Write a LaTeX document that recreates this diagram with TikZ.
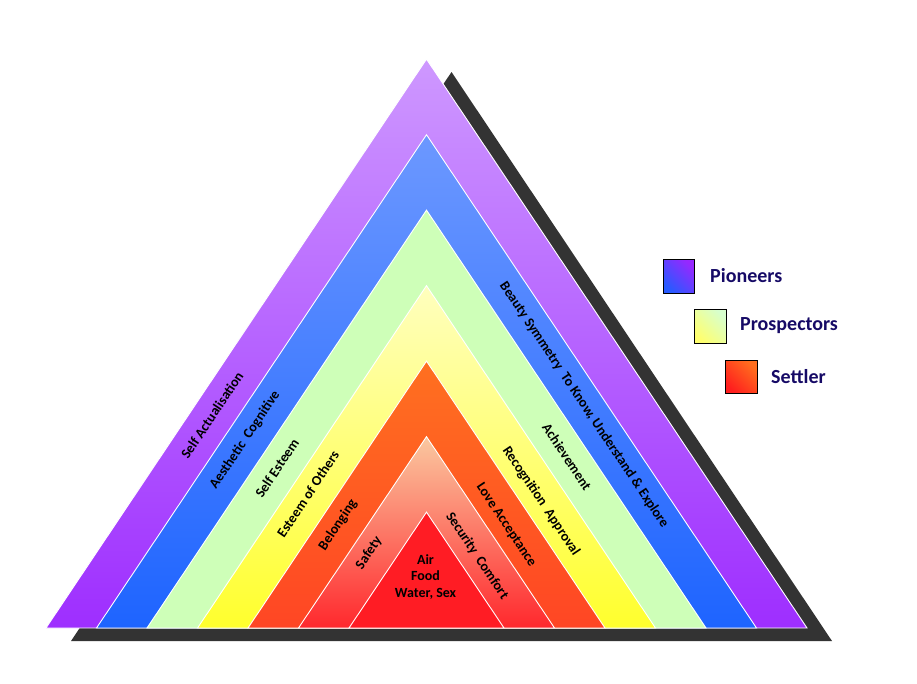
\documentclass[tikz,border=0pt]{standalone}
\usepackage{fontspec}
\setmainfont{Carlito}
\begin{document}
\begin{tikzpicture}[x=1pt,y=-1pt,
  layer/.style={draw=white,line width=0.9pt},
  lab/.style={font=\bfseries\fontsize{14}{16}\selectfont,text=black,inner sep=0pt},
  lbox/.style={draw=black,line width=0.7pt},
  ltext/.style={font=\bfseries\fontsize{20}{23}\selectfont,text=navy,anchor=west,inner sep=0pt}]
\definecolor{navy}{RGB}{22,10,102}
\definecolor{shadowc}{RGB}{51,51,51}
\useasboundingbox (0,0) rectangle (917,683);
% shadow
\fill[shadowc] (71,641) -- (451.5,72) -- (832,641) -- cycle;
% layers
\shade[layer,top color={rgb,255:red,206;green,152;blue,255},bottom color={rgb,255:red,158;green,46;blue,255}]
  (46,628) -- (426.5,59.1) -- (807,628) -- cycle;
\shade[layer,top color={rgb,255:red,108;green,152;blue,255},bottom color={rgb,255:red,30;green,100;blue,255}]
  (96.5,628) -- (426.5,134.7) -- (756.5,628) -- cycle;
\fill[layer,fill={rgb,255:red,206;green,255;blue,184}]
  (147,628) -- (426.5,210.1) -- (706,628) -- cycle;
\shade[layer,top color={rgb,255:red,255;green,255;blue,190},bottom color={rgb,255:red,255;green,255;blue,45}]
  (197.5,628) -- (426.5,285.6) -- (655.5,628) -- cycle;
\shade[layer,top color={rgb,255:red,255;green,112;blue,32},bottom color={rgb,255:red,255;green,70;blue,36}]
  (248,628) -- (426.5,361.1) -- (605,628) -- cycle;
\shade[layer,top color={rgb,255:red,250;green,200;blue,160},middle color={rgb,255:red,250;green,130;blue,110},bottom color={rgb,255:red,255;green,40;blue,45}]
  (298.5,628) -- (426.5,436.6) -- (554.5,628) -- cycle;
\fill[layer,fill={rgb,255:red,255;green,28;blue,36}]
  (349,628) -- (426.5,512.1) -- (504,628) -- cycle;
% left labels
\node[lab,rotate=56.2] (l1) at (212,415) {Self Actualisation};
\node[lab,rotate=56.2] (l2) at (245,440) {Aesthetic\ \ Cognitive};
\node[lab,rotate=56.2] (l3) at (277,468) {Self Esteem};
\node[lab,rotate=56.2] (l4) at (308,494) {Esteem of Others};
\node[lab,rotate=56.2] (l5) at (338,525) {Belonging};
\node[lab,rotate=56.2] (l6) at (369,553) {Safety};
% right labels
\node[lab,rotate=-56.2] (r2) at (584,405) {Beauty Symmetry\ \ To Know, Understand \& Explore};
\node[lab,rotate=-56.2] (r3) at (567,457) {Achievement};
\node[lab,rotate=-56.2] (r4) at (541,501) {Recognition\ \ Approval};
\node[lab,rotate=-56.2] (r5) at (506,525) {Love Acceptance};
\node[lab,rotate=-56.2] (r6) at (477,556) {Security\ \ Comfort};
% center
\node[lab,align=center,font=\bfseries\fontsize{14}{16.5}\selectfont] (c) at (425.5,577) {Air\\Food\\Water, Sex};
% legend
\shade[lbox,top color={rgb,255:red,150;green,40;blue,255},bottom color={rgb,255:red,40;green,90;blue,255},shading angle=-45]
  (663,259) rectangle (694,293);
\node[ltext] (t1) at (710,276) {Pioneers};
\shade[lbox,top color={rgb,255:red,215;green,255;blue,205},bottom color={rgb,255:red,255;green,255;blue,110},shading angle=-45]
  (694,309) rectangle (726,343);
\node[ltext] (t2) at (740,326) {Prospectors};
\shade[lbox,top color={rgb,255:red,255;green,110;blue,30},bottom color={rgb,255:red,255;green,30;blue,30},shading angle=-45]
  (725,360) rectangle (757,393);
\node[ltext] (t3) at (771,377) {Settler};
\end{tikzpicture}
\end{document}
